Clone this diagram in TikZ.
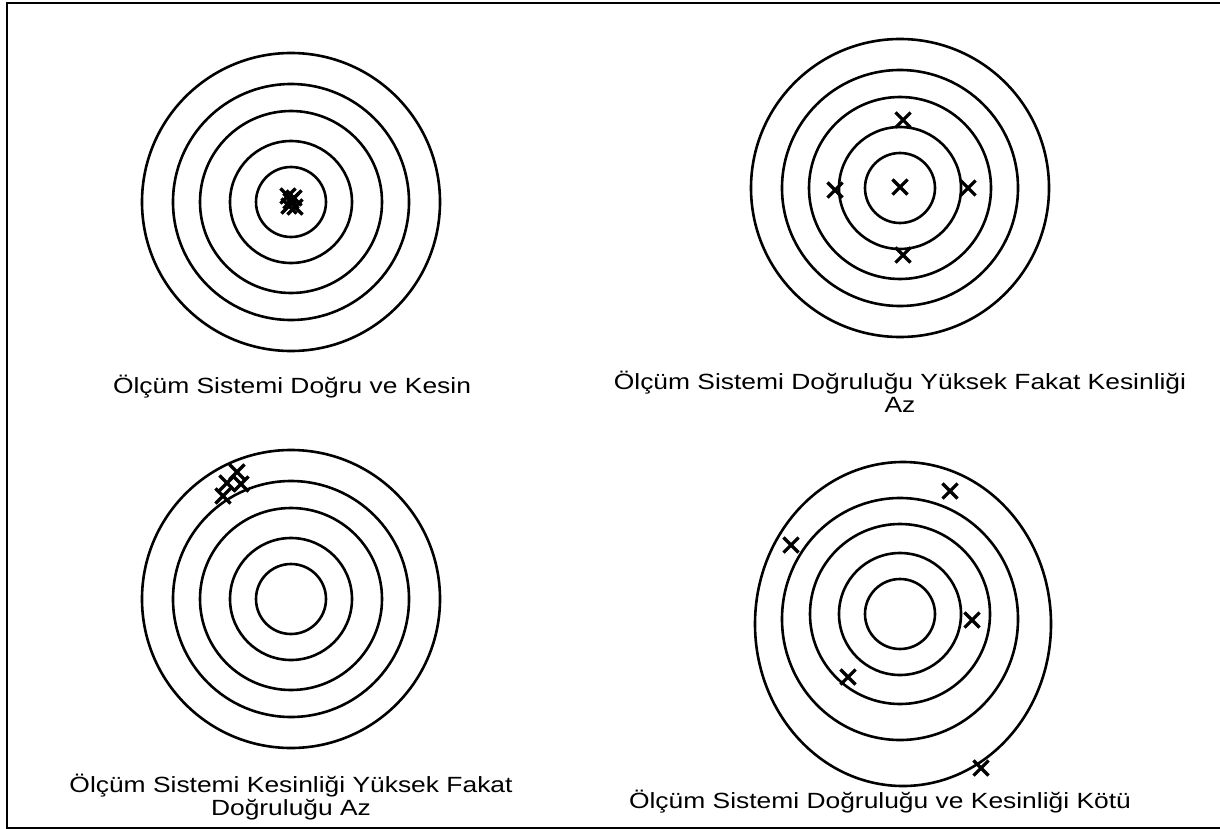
\documentclass[tikz,border=0pt]{standalone}
\usepackage{fontspec}
\setmainfont{Liberation Sans}[FakeStretch=1.2]
\usetikzlibrary{shapes.misc}
\usepackage{tkz-euclide}

\tikzset{
  ring/.style={line width=1.3pt,black},
  hit/.style={cross out,draw,line width=1.6pt,minimum size=6pt,inner sep=0pt},
  caption/.style={align=center,font=\fontsize{11}{11.5}\selectfont,inner sep=0pt}
}

\begin{document}
\begin{tikzpicture}[x=0.5pt,y=-0.5pt]
\useasboundingbox (0,0) rectangle (1220,829);

\draw[line width=1pt] (1220,3) -- (7,3) -- (7,828) -- (1220,828);

\tkzDefPoints{291/202/A,900/188/B,291/599/C,900/614/D}
\tkzDefPoints{900/619/D2,903/624/D1}

\foreach \c in {A,B,C}
  \foreach \r in {74.5,59,45.5,30.5,17.5}
    \draw[ring] (\c) circle[radius=\r pt];

% the last target is a bit taller
\draw[ring] (D1) ellipse[x radius=74pt,y radius=81pt];
\draw[ring] (D2) ellipse[x radius=59pt,y radius=60.5pt];
\foreach \r in {45,30.5,17.5}
  \draw[ring] (D) circle[radius=\r pt];

% dogru ve kesin
\node[hit] (a1) at (288,196) {};
\node[hit] (a2) at (294,198) {};
\node[hit] (a3) at (289,206) {};
\node[hit] (a4) at (295,207) {};
\node[hit] (a5) at (291,201) {};

% dogrulugu yuksek
\node[hit] (b1) at (900,187) {};
\node[hit] (b2) at (903,120) {};
\node[hit] (b3) at (835,190) {};
\node[hit] (b4) at (968,188) {};
\node[hit] (b5) at (903,255) {};

% kesinligi yuksek
\node[hit] (c1) at (237,472) {};
\node[hit] (c2) at (227,483) {};
\node[hit] (c3) at (241,484) {};
\node[hit] (c4) at (223,496) {};

% kotu
\node[hit] (d1) at (950,491) {};
\node[hit] (d2) at (791,545) {};
\node[hit] (d3) at (972,620) {};
\node[hit] (d4) at (848,677) {};
\node[hit] (d5) at (981,768) {};

\node[caption] (tA) at (292,387) {Ölçüm Sistemi Doğru ve Kesin};
\node[caption] (tB) at (900,392) {Ölçüm Sistemi Doğruluğu Yüksek Fakat Kesinliği\\Az};
\node[caption] (tC) at (291,797) {Ölçüm Sistemi Kesinliği Yüksek Fakat\\Doğruluğu Az};
\node[caption] (tD) at (880,802) {Ölçüm Sistemi Doğruluğu ve Kesinliği Kötü};

\end{tikzpicture}
\end{document}
